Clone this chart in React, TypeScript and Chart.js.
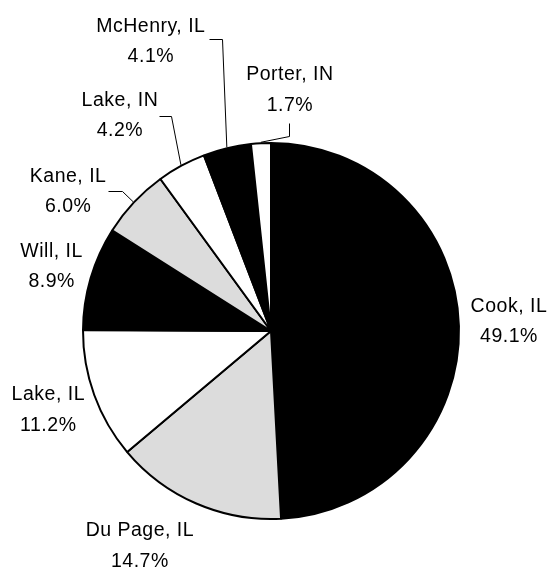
import React, { useEffect, useRef } from 'react';
import { Chart, registerables } from 'chart.js';

Chart.register(...registerables);

// ---- data ----
const counties = ['Cook, IL', 'Du Page, IL', 'Lake, IL', 'Will, IL', 'Kane, IL', 'Lake, IN', 'McHenry, IL', 'Porter, IN'];
const shares = [49.1, 14.7, 11.2, 8.9, 6.0, 4.2, 4.1, 1.7];

// ---- styling / layout (not data) ----
const sliceColors = ['#000000', '#dcdcdc', '#ffffff', '#000000', '#dcdcdc', '#ffffff', '#000000', '#ffffff'];
// label anchor offset (text centre x, first baseline y) relative to the slice's mid-edge point
const labelOffsets: [number, number][] = [
  [49, -14],
  [-56, 32],
  [-45, 5],
  [-38, -21],
  [-65, -20],
  [-61, -59],
  [-76, -115.5],
  [29, -62],
];
// leader line: [startDx, startDy, elbowDx, elbowDy] relative to mid-edge point, or null
const leaderOffsets: (number[] | null)[] = [
  null,
  null,
  null,
  null,
  [-25, -11, -11, -11],
  [-22, -49, -10, -49],
  [-18, -108, -5, -108],
  [28, -19, 28, -6],
];
const LINE_GAP = 30.5;

const labelPlugin = {
  id: 'outsideLabels',
  afterDatasetsDraw(chart: any) {
    const ctx = chart.ctx as CanvasRenderingContext2D;
    const meta = chart.getDatasetMeta(0);
    ctx.save();
    ctx.font = '19.5px "Liberation Sans", Arial, sans-serif';
    (ctx as any).letterSpacing = '0.5px';
    ctx.fillStyle = '#000';
    ctx.textAlign = 'center';
    ctx.textBaseline = 'alphabetic';
    ctx.strokeStyle = '#000';
    ctx.lineWidth = 1;
    meta.data.forEach((arc: any, i: number) => {
      const p = arc.getProps(['x', 'y', 'startAngle', 'endAngle', 'outerRadius'], true);
      const mid = (p.startAngle + p.endAngle) / 2;
      const r = p.outerRadius + 1;
      const ex = p.x + r * Math.cos(mid);
      const ey = p.y + r * Math.sin(mid);
      const [dx, dy] = labelOffsets[i];
      const tx = ex + dx;
      const ty = ey + dy;
      ctx.fillText(counties[i], tx, ty);
      ctx.fillText(`${shares[i].toFixed(1)}%`, tx, ty + LINE_GAP);
      const l = leaderOffsets[i];
      if (l) {
        ctx.beginPath();
        ctx.moveTo(Math.round(ex + l[0]) + 0.5, Math.round(ey + l[1]) + 0.5);
        ctx.lineTo(Math.round(ex + l[2]) + 0.5, Math.round(ey + l[3]) + 0.5);
        ctx.lineTo(ex, ey);
        ctx.stroke();
      }
    });
    ctx.restore();
  },
};

export default function App() {
  const ref = useRef<HTMLCanvasElement | null>(null);
  useEffect(() => {
    if (!ref.current) return;
    const chart = new Chart(ref.current, {
      type: 'pie',
      data: {
        labels: counties,
        datasets: [
          {
            data: shares,
            backgroundColor: sliceColors,
            borderColor: '#000000',
            borderWidth: 2,
          },
        ],
      },
      options: {
        responsive: false,
        animation: false,
        devicePixelRatio: 1,
        radius: 188,
        layout: { padding: { left: 0, right: 5, top: 95, bottom: 0 } },
        plugins: {
          legend: { display: false },
          tooltip: { enabled: false },
        },
      } as any,
      plugins: [labelPlugin],
    });
    return () => chart.destroy();
  }, []);
  return (
    <div style={{ position: 'fixed', left: 0, top: 0, width: 547, height: 567, background: '#fff' }}>
      <canvas ref={ref} width={547} height={567} />
    </div>
  );
}
